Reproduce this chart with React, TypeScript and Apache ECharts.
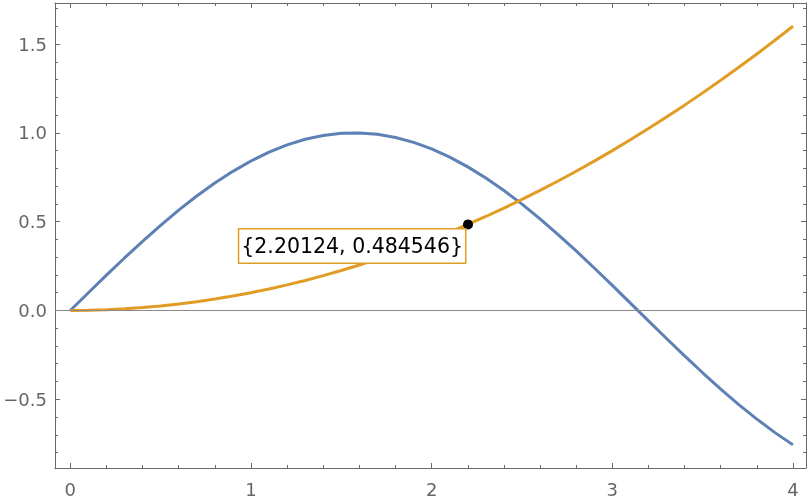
import React, { useEffect, useRef } from "react";
import * as echarts from "echarts";

const xValues = [0, 0.1, 0.2, 0.3, 0.4, 0.5, 0.6, 0.7, 0.8, 0.9, 1.0, 1.1, 1.2, 1.3, 1.4, 1.5, 1.6, 1.7, 1.8, 1.9, 2.0, 2.1, 2.2, 2.3, 2.4, 2.5, 2.6, 2.7, 2.8, 2.9, 3.0, 3.1, 3.2, 3.3, 3.4, 3.5, 3.6, 3.7, 3.8, 3.9, 4.0];
const blueValues = [0, 0.0998, 0.1987, 0.2955, 0.3894, 0.4794, 0.5646, 0.6442, 0.7174, 0.7833, 0.8415, 0.8912, 0.932, 0.9636, 0.9854, 0.9975, 0.9996, 0.9917, 0.9738, 0.9463, 0.9093, 0.8632, 0.8085, 0.7457, 0.6755, 0.5985, 0.5155, 0.4274, 0.335, 0.2392, 0.1411, 0.0416, -0.0584, -0.1577, -0.2555, -0.3508, -0.4425, -0.5298, -0.6119, -0.6878, -0.7568];
const orangeValues = [0, 0.001, 0.004, 0.009, 0.016, 0.025, 0.036, 0.049, 0.064, 0.081, 0.1, 0.121, 0.144, 0.169, 0.196, 0.225, 0.256, 0.289, 0.324, 0.361, 0.4, 0.441, 0.484, 0.529, 0.576, 0.625, 0.676, 0.729, 0.784, 0.841, 0.9, 0.961, 1.024, 1.089, 1.156, 1.225, 1.296, 1.369, 1.444, 1.521, 1.6];
const cursorPoint = [2.20124, 0.484546];

const xMajorTicks = [0, 1, 2, 3, 4];
const xMinorTicks = [0.2, 0.4, 0.6, 0.8, 1.2, 1.4, 1.6, 1.8, 2.2, 2.4, 2.6, 2.8, 3.2, 3.4, 3.6, 3.8, 4.0];
const yMajorTicks = [-0.5, 0, 0.5, 1.0, 1.5];
const yMinorTicks = [-0.8, -0.7, -0.6, -0.4, -0.3, -0.2, -0.1, 0.1, 0.2, 0.3, 0.4, 0.6, 0.7, 0.8, 0.9, 1.1, 1.2, 1.3, 1.4, 1.6, 1.7];

const X_MIN = -0.0847;
const X_MAX = 4.072;
const Y_MIN = -0.887;
const Y_MAX = 1.731;

const AXIS_COLOR = "#6a6a6a";
const LABEL_COLOR = "#666666";
const FONT = "DejaVu Sans";

function App() {
  const ref = useRef<HTMLDivElement>(null);
  useEffect(() => {
    if (!ref.current) return;
    const chart = echarts.init(ref.current, null, { renderer: "svg" });

    const mkX = (position: "bottom" | "top", ticks: number[], len: number, showLine: boolean, showLabel: boolean) => ({
      type: "value",
      position,
      min: X_MIN,
      max: X_MAX,
      axisLine: { show: showLine, onZero: false, lineStyle: { color: AXIS_COLOR, width: 1 } },
      axisTick: { show: true, inside: true, length: len, customValues: ticks, lineStyle: { color: AXIS_COLOR, width: 1 } },
      axisLabel: {
        show: showLabel,
        customValues: xMajorTicks,
        color: LABEL_COLOR,
        fontFamily: FONT,
        fontSize: 18,
        margin: 12,
        formatter: (v: number) => String(Math.round(v)),
      },
      splitLine: { show: false },
    });

    const fmtY = (v: number) => v.toFixed(1).replace("-", "\u2212");

    const mkY = (position: "left" | "right", ticks: number[], len: number, showLine: boolean, showLabel: boolean) => ({
      type: "value",
      position,
      min: Y_MIN,
      max: Y_MAX,
      axisLine: { show: showLine, onZero: false, lineStyle: { color: AXIS_COLOR, width: 1 } },
      axisTick: { show: true, inside: true, length: len, customValues: ticks, lineStyle: { color: AXIS_COLOR, width: 1 } },
      axisLabel: {
        show: showLabel,
        customValues: yMajorTicks,
        color: LABEL_COLOR,
        fontFamily: FONT,
        fontSize: 18,
        margin: 8,
        formatter: fmtY,
      },
      splitLine: { show: false },
    });

    const toPairs = (ys: number[]) => xValues.map((x, i) => [x, ys[i]]);

    chart.setOption({
      animation: false,
      grid: { left: 55, top: 3, width: 751, height: 465 },
      xAxis: [
        mkX("bottom", xMajorTicks, 5, true, true),
        mkX("bottom", xMinorTicks, 3, false, false),
        mkX("top", xMajorTicks, 5, true, false),
        mkX("top", xMinorTicks, 3, false, false),
      ],
      yAxis: [
        mkY("left", yMajorTicks, 5, true, true),
        mkY("left", yMinorTicks, 3, false, false),
        mkY("right", yMajorTicks, 5, true, false),
        mkY("right", yMinorTicks, 3, false, false),
      ],
      series: [
        {
          type: "line",
          data: toPairs(blueValues),
          smooth: false,
          showSymbol: false,
          lineStyle: { color: "#5E81B5", width: 3 },
          z: 2,
          markLine: {
            silent: true,
            symbol: "none",
            label: { show: false },
            lineStyle: { color: "#8a8a8a", width: 1, type: "solid" },
            data: [{ yAxis: 0 }],
          },
        },
        {
          type: "line",
          data: toPairs(orangeValues),
          smooth: false,
          showSymbol: false,
          lineStyle: { color: "#E19C24", width: 3 },
          z: 3,
        },
        {
          type: "scatter",
          data: [cursorPoint],
          symbol: "circle",
          symbolSize: 10,
          itemStyle: { color: "#000000", opacity: 1 },
          z: 10,
          label: {
            show: true,
            formatter: () => "{" + cursorPoint[0] + ", " + cursorPoint[1] + "}",
            position: [2, 10],
            align: "right",
            verticalAlign: "top",
            color: "#000000",
            opacity: 1,
            fontFamily: FONT,
            fontSize: 20.5,
            lineHeight: 23,
            backgroundColor: "#ffffff",
            borderColor: "#E19C24",
            borderWidth: 1.5,
            padding: [5, 2, 5, 2],
          },
        },
      ],
    });
    return () => chart.dispose();
  }, []);
  return <div ref={ref} style={{ position: "fixed", left: 0, top: 0, width: 810, height: 504 }} />;
}

export default App;
